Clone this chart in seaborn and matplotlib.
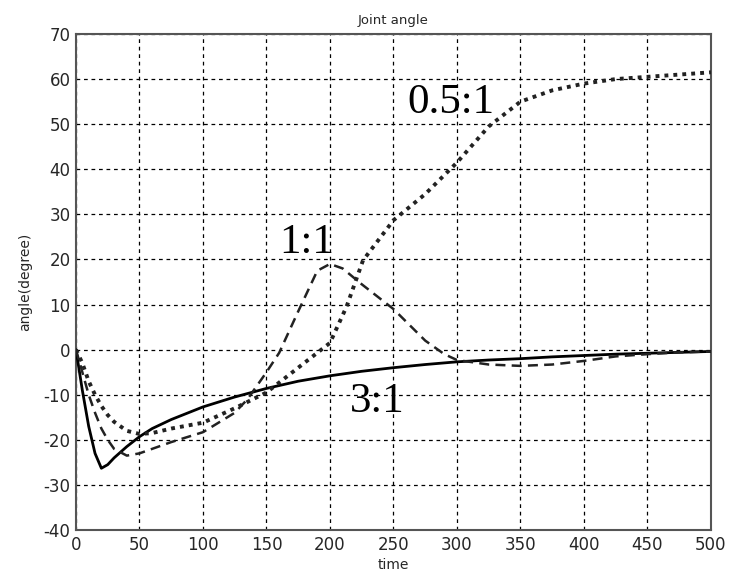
import numpy as np
import pandas as pd
import seaborn as sns
import matplotlib.pyplot as plt

# values
t_31 = [0, 5, 10, 15, 20, 25, 30, 40, 50, 60, 75, 100, 125, 150, 175, 200, 225, 250,
        275, 300, 325, 350, 375, 400, 425, 450, 475, 500]
ang_31 = [0, -9, -17, -23, -26.3, -25.5, -24, -21.5, -19.3, -17.5, -15.5, -12.7, -10.5,
          -8.6, -7, -5.8, -4.8, -4, -3.3, -2.7, -2.3, -2, -1.6, -1.3, -1.0, -0.8, -0.6, -0.4]

t_11 = [0, 5, 10, 15, 20, 25, 30, 40, 50, 60, 75, 100, 125, 135, 150, 160, 175, 190, 200,
        210, 225, 250, 275, 290, 300, 325, 350, 375, 400, 425, 450, 475, 500]
ang_11 = [0, -5, -10, -14, -17.5, -20, -22, -23.5, -23, -22, -20.5, -18.3, -14, -11, -5,
          -0.7, 8.5, 17.5, 19, 18, 14.5, 9, 2, -1, -2.3, -3.3, -3.6, -3.3, -2.5, -1.5, -1,
          -0.6, -0.4]

t_051 = [0, 5, 10, 15, 20, 25, 30, 40, 50, 60, 75, 100, 125, 150, 175, 200, 213, 226, 250,
         275, 300, 325, 350, 375, 400, 425, 450, 475, 500]
ang_051 = [0, -3, -7, -10, -12.5, -14.5, -16, -18, -18.7, -18.5, -17.5, -16.2, -13, -9.5,
           -4, 1.5, 9.5, 19.8, 28.7, 34.5, 41.5, 49.5, 55, 57.5, 59, 60, 60.5, 61, 61.5]

labels = ['0.5:1', '1:1', '3:1']
label_x = [295, 182, 237]
label_y = [54.7, 23.6, -11.6]

sns.set_style('white')
plt.rcParams['font.family'] = ['DejaVu Sans']
plt.rcParams['axes.unicode_minus'] = False

fig = plt.figure(figsize=(7.37, 5.88), dpi=100)
ax = fig.add_axes([0.1031, 0.0986, 0.8616, 0.8436])

d31 = pd.DataFrame({'time': t_31, 'angle': ang_31})
d11 = pd.DataFrame({'time': t_11, 'angle': ang_11})
d051 = pd.DataFrame({'time': t_051, 'angle': ang_051})

sns.lineplot(data=d31, x='time', y='angle', ax=ax, color='black', lw=2.0, zorder=3)
sns.lineplot(data=d11, x='time', y='angle', ax=ax, color='#222222', lw=1.8,
             linestyle=(0, (4, 2.5)), zorder=3)
sns.lineplot(data=d051, x='time', y='angle', ax=ax, color='#222222', lw=2.8,
             linestyle=(0, (1, 1.3)), zorder=3)

for txt, lx, ly in zip(labels, label_x, label_y):
    ax.text(lx, ly, txt, fontsize=31, family='Liberation Serif', ha='center', va='center',
            color='black', zorder=4)

ax.set_xlim(0, 500)
ax.set_ylim(-40, 70)
ax.set_xticks(np.arange(0, 501, 50))
ax.set_yticks(np.arange(-40, 71, 10))
ax.grid(True, color='black', linestyle=(0, (3, 3)), lw=0.9)
ax.tick_params(direction='in', labelsize=12, length=4, color='#444444', pad=4)
for s in ax.spines.values():
    s.set_color('#555555')
    s.set_linewidth(1.5)

ax.set_xlabel('time', fontsize=10, labelpad=3)
ax.set_ylabel('angle(degree)', fontsize=10, labelpad=8)
ax.set_title('Joint angle', fontsize=9.5, pad=7)

fig.savefig('out.png', dpi=100)
